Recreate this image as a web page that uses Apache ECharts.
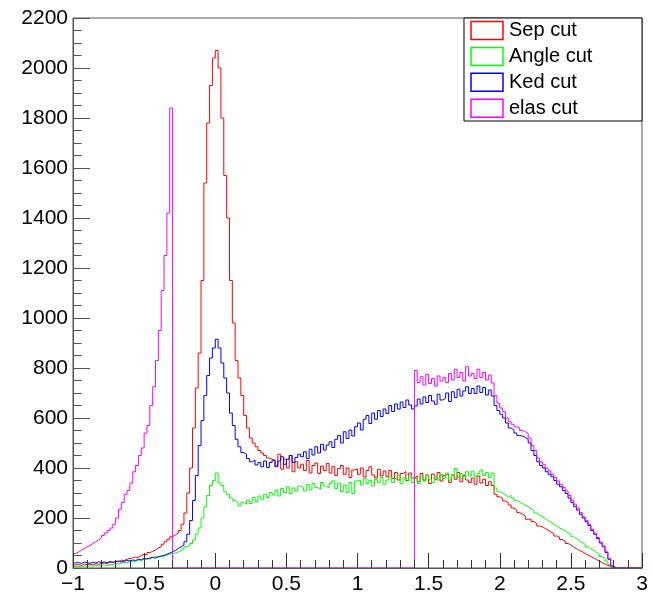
<!DOCTYPE html>
<html>
<head>
<meta charset="utf-8">
<script src="https://cdn.jsdelivr.net/npm/echarts@6/dist/echarts.min.js"></script>
<style>
html,body{margin:0;padding:0;background:#fff;}
#c{width:653px;height:599px;}
</style>
</head>
<body>
<div id="c"></div>
<script>
// Histogram binning
var binStart = -1;
var binWidth = 0.02;
var xMin = -1, xMax = 3;
var yTicks = [0, 2200, 200];

var seriesNames = ['Sep cut', 'Angle cut', 'Ked cut', 'elas cut'];
var seriesColors = ['#ff0000', '#00ff00', '#0000ff', '#ff00ff'];

var sepCut = [
 12, 14, 10, 15, 13, 16, 12, 17, 15, 18,
 20, 18, 24, 22, 28, 25, 31, 30, 35, 38,
 40, 44, 42, 50, 55, 52, 62, 66, 72, 80,
 85, 95, 105, 115, 125, 132, 140, 150, 175, 220,
 300, 400, 560, 720, 860, 1150, 1540, 1780, 1930, 2040,
 2070, 2000, 1800, 1570, 1400, 1150, 980, 830, 760, 690,
 610, 560, 520, 500, 485, 470, 460, 450, 440, 435,
 430, 405, 455, 395, 435, 400, 450, 385, 425, 400,
 415, 390, 430, 380, 410, 420, 378, 408, 390, 418,
 380, 405, 370, 398, 410, 375, 400, 362, 392, 396,
 375, 400, 365, 390, 405, 372, 360, 395, 368, 388,
 365, 390, 358, 382, 352, 378, 386, 350, 380, 360,
 368, 345, 378, 352, 372, 338, 376, 355, 382, 348,
 370, 378, 342, 372, 355, 382, 345, 370, 352, 342,
 360, 335, 368, 340, 355, 330, 345, 330, 295, 285,
 278, 268, 262, 252, 240, 232, 222, 215, 208, 195,
 195, 186, 178, 168, 165, 158, 152, 144, 138, 128,
 124, 114, 108, 98, 92, 84, 78, 70, 66, 58,
 52, 46, 40, 34, 28, 22, 16, 11, 6, 2,
 0, 0, 0, 0, 0, 0, 0, 0, 0, 0
];

var angleCut = [
 5, 7, 4, 8, 6, 9, 7, 10, 8, 11,
 12, 10, 15, 14, 18, 16, 20, 22, 21, 25,
 28, 26, 32, 30, 35, 38, 36, 42, 45, 44,
 46, 48, 52, 55, 58, 60, 64, 70, 76, 85,
 88, 98, 112, 135, 160, 200, 245, 290, 330, 350,
 380, 340, 330, 305, 295, 280, 270, 262, 248, 262,
 255, 272, 258, 282, 265, 288, 275, 295, 282, 302,
 292, 312, 288, 318, 302, 325, 298, 320, 308, 328,
 322, 308, 335, 312, 338, 322, 315, 342, 328, 320,
 338, 348, 318, 340, 306, 332, 302, 342, 298, 348,
 352, 332, 358, 338, 350, 328, 355, 342, 362, 335,
 352, 365, 342, 358, 372, 338, 360, 348, 368, 342,
 358, 338, 365, 348, 372, 355, 342, 368, 352, 375,
 358, 380, 352, 372, 398, 362, 378, 360, 385, 368,
 388, 365, 378, 392, 370, 382, 362, 380, 320, 305,
 300, 292, 285, 290, 280, 270, 265, 258, 250, 245,
 238, 230, 220, 212, 205, 198, 190, 182, 175, 168,
 160, 155, 148, 142, 135, 125, 118, 110, 102, 95,
 85, 78, 70, 62, 55, 46, 38, 28, 15, 5,
 0, 0, 0, 0, 0, 0, 0, 0, 0, 0
];

var kedCut = [
 20, 22, 18, 24, 21, 19, 23, 20, 25, 22,
 24, 21, 26, 23, 25, 28, 24, 27, 30, 28,
 32, 30, 35, 33, 38, 36, 40, 42, 40, 45,
 48, 50, 55, 60, 65, 70, 78, 85, 92, 105,
 135, 190, 270, 370, 490, 590, 690, 770, 840, 880,
 915, 880, 820, 760, 700, 620, 570, 515, 485, 462,
 455, 438, 425, 432, 412, 422, 405, 428, 402, 422,
 432, 408, 428, 445, 415, 435, 450, 422, 442, 455,
 445, 465, 438, 475, 452, 485, 460, 495, 472, 492,
 505, 482, 515, 530, 500, 545, 518, 552, 528, 565,
 580, 552, 595, 610, 578, 620, 595, 630, 606, 636,
 618, 650, 626, 656, 636, 664, 642, 672, 652, 636,
 648, 676, 656, 684, 662, 690, 668, 655, 695, 672,
 680, 700, 666, 705, 682, 715, 688, 708, 725, 698,
 718, 698, 728, 702, 722, 692, 712, 688, 650, 630,
 615, 600, 580, 560, 552, 540, 530, 528, 522, 515,
 500, 470, 450, 425, 410, 400, 385, 375, 365, 350,
 335, 325, 310, 298, 280, 262, 245, 232, 215, 200,
 185, 170, 150, 135, 118, 100, 85, 62, 35, 8,
 0, 0, 0, 0, 0, 0, 0, 0, 0, 0
];

var elasCut = [
 58, 65, 72, 78, 85, 90, 98, 105, 112, 120,
 130, 140, 150, 160, 175, 200, 235, 262, 295, 310,
 340, 385, 410, 450, 480, 540, 570, 650, 725, 830,
 950, 1110, 1250, 1420, 1840, 0, 0, 0, 0, 0,
 0, 0, 0, 0, 0, 0, 0, 0, 0, 0,
 0, 0, 0, 0, 0, 0, 0, 0, 0, 0,
 0, 0, 0, 0, 0, 0, 0, 0, 0, 0,
 0, 0, 0, 0, 0, 0, 0, 0, 0, 0,
 0, 0, 0, 0, 0, 0, 0, 0, 0, 0,
 0, 0, 0, 0, 0, 0, 0, 0, 0, 0,
 0, 0, 0, 0, 0, 0, 0, 0, 0, 0,
 0, 0, 0, 0, 0, 0, 0, 0, 0, 0,
 790, 742, 765, 732, 775, 738, 758, 728, 768, 748,
 762, 742, 778, 752, 795, 762, 782, 748, 805, 768,
 778, 758, 795, 762, 782, 752, 772, 740, 690, 660,
 640, 625, 600, 585, 575, 565, 560, 550, 545, 538,
 520, 490, 470, 440, 425, 415, 400, 388, 375, 362,
 348, 335, 322, 308, 290, 272, 255, 240, 222, 205,
 190, 175, 155, 140, 122, 104, 88, 65, 38, 10,
 0, 0, 0, 0, 0, 0, 0, 0, 0, 0
];

var allSeries = [sepCut, angleCut, kedCut, elasCut];

function histPoints(vals) {
  var pts = vals.map(function (v, i) {
    return [Math.round((binStart + i * binWidth) * 1000) / 1000, v];
  });
  pts.push([Math.round((binStart + vals.length * binWidth) * 1000) / 1000, vals[vals.length - 1]]);
  return pts;
}

var FONT = 'Liberation Sans, Arial, Helvetica, sans-serif';

var chart = echarts.init(document.getElementById('c'), null, {renderer: 'canvas'});

var legendGraphics = [{
  type: 'rect',
  shape: {x: 464, y: 18, width: 178, height: 103},
  style: {fill: '#fff', stroke: '#000', lineWidth: 1}
}];
seriesNames.forEach(function (n, k) {
  var cy = 30.5 + k * 25.9;
  legendGraphics.push({
    type: 'rect',
    shape: {x: 471, y: cy - 9, width: 32, height: 18},
    style: {fill: '#fff', stroke: seriesColors[k], lineWidth: 1.5}
  });
  legendGraphics.push({
    type: 'text',
    x: 509, y: cy,
    style: {text: n, fill: '#000', font: '20px ' + FONT, verticalAlign: 'middle', align: 'left'}
  });
});

chart.setOption({
  animation: false,
  backgroundColor: '#fff',
  grid: {left: 73, right: 11, top: 18, bottom: 31, show: true, borderColor: '#555', borderWidth: 1, backgroundColor: 'transparent'},
  xAxis: {
    type: 'value', min: xMin, max: xMax, interval: 0.5, z: 5,
    axisLine: {show: true, onZero: false, lineStyle: {color: '#555', width: 1}},
    axisTick: {show: true, inside: true, length: 15, lineStyle: {color: '#333'}},
    minorTick: {show: true, splitNumber: 5, length: 8, lineStyle: {color: '#333'}},
    splitLine: {show: false},
    axisLabel: {
      margin: 6, color: '#000', fontSize: 21, fontFamily: FONT,
      showMinLabel: true, showMaxLabel: true,
      formatter: function (v) { return String(v).replace('-', '\u2212'); }
    }
  },
  yAxis: {
    type: 'value', min: yTicks[0], max: yTicks[1], interval: yTicks[2], z: 5,
    axisLine: {show: true, onZero: false, lineStyle: {color: '#555', width: 1}},
    axisTick: {show: true, inside: true, length: 17, lineStyle: {color: '#555'}},
    minorTick: {show: true, splitNumber: 4, length: 8.7, lineStyle: {color: '#555'}},
    splitLine: {show: false},
    axisLabel: {margin: 5, color: '#000', fontSize: 21, fontFamily: FONT,
      formatter: function (v) { return String(v); }}
  },
  series: allSeries.map(function (vals, k) {
    return {
      name: seriesNames[k], type: 'line', step: 'end', showSymbol: false, symbol: 'none',
      data: histPoints(vals), clip: true,
      lineStyle: {color: seriesColors[k], width: 1},
      itemStyle: {color: seriesColors[k]}
    };
  }),
  graphic: [{type: 'group', z: 100, children: legendGraphics}]
});
</script>
</body>
</html>
